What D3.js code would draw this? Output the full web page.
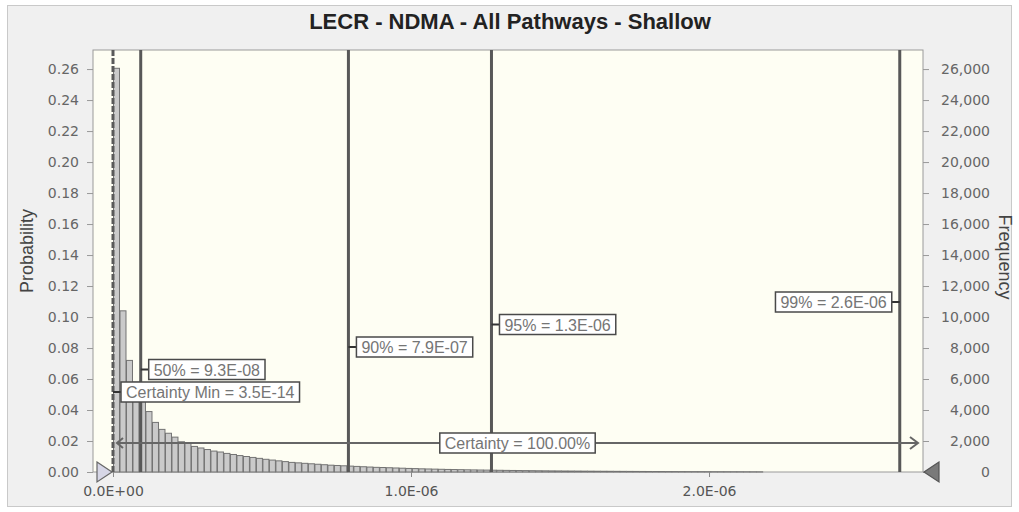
<!DOCTYPE html>
<html><head><meta charset="utf-8">
<script src="https://cdn.jsdelivr.net/npm/d3@7"></script>
<style>body{margin:0;background:#fff}</style>
</head><body><svg id="c" width="1019" height="512"></svg>
<script>
// ---------- data ----------
const title = "LECR - NDMA - All Pathways - Shallow";
const trials = 100000;
const binWidth = 2.18e-8;
const frequencies = [
  26050,10400,7200,5800,4700,3900,3200,2750,2500,2250,
  1950,1850,1650,1550,1450,1350,1290,1200,1130,1060,
  1000,940,880,820,770,720,670,620,590,560,
  530,500,470,440,420,400,380,360,340,320,
  300,290,275,260,245,230,220,205,195,185,
  175,165,158,150,142,135,128,122,116,110,
  104,99,94,89,85,80,76,72,69,65,
  62,59,56,53,50,48,46,43,41,39,
  37,35,33,31,30,28,27,25,24,23,
  22,20,19,18,17,16,15,14,12,10
];
const probTicks = [0,0.02,0.04,0.06,0.08,0.10,0.12,0.14,0.16,0.18,0.20,0.22,0.24,0.26];
const freqTicks = [0,2000,4000,6000,8000,10000,12000,14000,16000,18000,20000,22000,24000,26000];
const xTickValues = [0,1e-6,2e-6];
const xTickLabels = ["0.0E+00","1.0E-06","2.0E-06"];
const markerNames  = ["Certainty Min","50%","90%","95%","99%"];
const markerValues = [3.5e-14, 9.3e-8, 7.9e-7, 1.27e-6, 2.64e-6];
const markerLabels = ["3.5E-14","9.3E-08","7.9E-07","1.3E-06","2.6E-06"];
const certaintyText = "Certainty = 100.00%";
const xDomain = [-6.71e-8, 2.718e-6];
const probMax = 0.2723;

// ---------- layout ----------
const L = 93, R = 923, T = 50, B = 472;
const svg = d3.select("#c");
const x = d3.scaleLinear().domain(xDomain).range([L, R]);
const yP = d3.scaleLinear().domain([0, probMax]).range([B, T]);
const yF = d3.scaleLinear().domain([0, probMax * trials]).range([B, T]);
const tickFont = "'DejaVu Sans', sans-serif";
const labFont = "'Liberation Sans', Arial, sans-serif";

svg.append("rect").attr("x",7.5).attr("y",5.5).attr("width",1004).attr("height",501)
  .attr("fill","#f0f0f0").attr("stroke","#c9c9c9");

svg.append("text").attr("x",510).attr("y",29).attr("text-anchor","middle")
  .attr("font-family",labFont).attr("font-weight","bold").attr("font-size",22)
  .attr("fill","#222").text(title);

// plot area
svg.append("rect").attr("x",L).attr("y",T).attr("width",R-L).attr("height",B-T)
  .attr("fill","#fefef3").attr("stroke","#9a9a9a");

// bars
const g = svg.append("g");
g.selectAll("rect.bar").data(frequencies).join("rect").attr("class","bar")
  .attr("x",(d,i)=>x(i*binWidth)+0.5)
  .attr("width",(d,i)=>x((i+1)*binWidth)-x(i*binWidth)-0.5)
  .attr("y",d=>yF(d))
  .attr("height",d=>B-yF(d))
  .attr("fill","#cacaca").attr("stroke","#737373").attr("stroke-width",1);

// left axis
const la = svg.append("g").attr("transform",`translate(${L},0)`)
  .call(d3.axisLeft(yP).tickValues(probTicks).tickFormat(d3.format(".2f")).tickSize(6).tickPadding(8));
la.select(".domain").remove();
la.selectAll("line").attr("stroke","#999");
la.selectAll("text").attr("font-family",tickFont).attr("font-size",14).attr("fill","#666");

// right axis
const ra = svg.append("g").attr("transform",`translate(${R},0)`)
  .call(d3.axisRight(yF).tickValues(freqTicks).tickFormat(d3.format(",")).tickSize(6).tickPadding(0));
ra.select(".domain").remove();
ra.selectAll("line").attr("stroke","#999");
ra.selectAll("text").attr("font-family",tickFont).attr("font-size",14).attr("fill","#666")
  .attr("text-anchor","end").attr("x",67);

// bottom axis
const ba = svg.append("g").attr("transform",`translate(0,${B})`)
  .call(d3.axisBottom(x).tickValues(xTickValues).tickFormat((d,i)=>xTickLabels[i]).tickSize(5).tickPadding(9));
ba.select(".domain").remove();
ba.selectAll("line").attr("stroke","#888");
ba.selectAll("text").attr("font-family",tickFont).attr("font-size",14).attr("fill","#555");

// axis titles
svg.append("text").attr("transform",`translate(27,${(T+B)/2-10}) rotate(-90)`)
  .attr("text-anchor","middle").attr("dominant-baseline","central")
  .attr("font-family",labFont).attr("font-size",18).attr("fill","#444").text("Probability");
svg.append("text").attr("transform",`translate(1005,${(T+B)/2-4}) rotate(90)`)
  .attr("text-anchor","middle").attr("dominant-baseline","central")
  .attr("font-family",labFont).attr("font-size",18).attr("fill","#444").text("Frequency");

// marker lines
markerValues.forEach((v,i)=>{
  svg.append("line").attr("x1",x(v)).attr("x2",x(v)).attr("y1",T).attr("y2",B)
    .attr("stroke", i===0 ? "#5a5a5a" : "#585858")
    .attr("stroke-width", 3)
    .attr("stroke-dasharray", i===0 ? "6,2" : null);
});

// certainty arrow
const arrowY = 443;
const ax1 = x(markerValues[0]) + 4, ax2 = R - 5;
svg.append("line").attr("x1",ax1).attr("x2",ax2).attr("y1",arrowY).attr("y2",arrowY)
  .attr("stroke","#666").attr("stroke-width",2);
svg.append("path").attr("d",`M${ax2-8},${arrowY-6}L${ax2},${arrowY}L${ax2-8},${arrowY+6}`)
  .attr("fill","none").attr("stroke","#666").attr("stroke-width",2);
svg.append("path").attr("d",`M${ax1+6},${arrowY-5}L${ax1},${arrowY}L${ax1+6},${arrowY+5}`)
  .attr("fill","none").attr("stroke","#666").attr("stroke-width",2);

function box(cx, cy, text, anchor){
  const t = svg.append("text").attr("font-family",labFont).attr("font-size",16)
    .attr("fill","#757575").text(text);
  const w = t.node().getComputedTextLength() + 10, h = 20;
  let bx;
  if(anchor==="middle") bx = cx - w/2;
  else if(anchor==="start") bx = cx;
  else bx = cx - w;
  svg.insert("rect", () => t.node()).attr("x",bx).attr("y",cy-h/2).attr("width",w).attr("height",h)
    .attr("fill","#fff").attr("stroke","#4a4a4a").attr("stroke-width",1.5);
  t.attr("x",bx+5).attr("y",cy+6);
  return [bx,w];
}
box((ax1+ax2)/2, arrowY, certaintyText, "middle");

// marker labels
markerValues.forEach((v,i)=>{
  const lx = x(v), cy = 392 - i*22.5;
  const txt = markerNames[i] + " = " + markerLabels[i];
  const probe = svg.append("text").attr("font-family",labFont).attr("font-size",16).text(txt);
  const w = probe.node().getComputedTextLength() + 10; probe.remove();
  const right = lx + 8 + w < R;
  const edge = right ? lx + 8 : lx - 8;
  svg.append("line").attr("x1",lx).attr("x2",edge).attr("y1",cy).attr("y2",cy)
    .attr("stroke","#333").attr("stroke-width",2);
  box(edge, cy, txt, right ? "start" : "end");
});

// grabbers
const gx = x(markerValues[0]) - 1;
svg.append("path").attr("d",`M${gx-15},${B-10}L${gx},${B}L${gx-15},${B+10}Z`)
  .attr("fill","#d6d6e6").attr("stroke","#666").attr("stroke-width",1.2);
svg.append("path").attr("d",`M${R+16},${B-10}L${R+1},${B}L${R+16},${B+10}Z`)
  .attr("fill","#7a7a7a").attr("stroke","#555").attr("stroke-width",1.2);
</script></body></html>
